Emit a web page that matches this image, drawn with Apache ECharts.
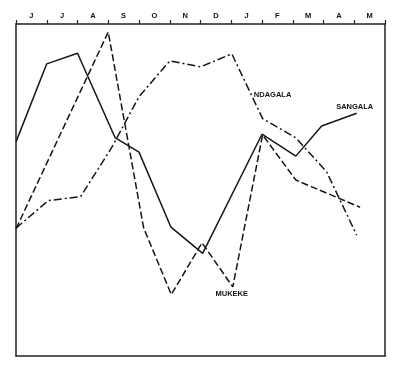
<!DOCTYPE html>
<html><head><meta charset="utf-8">
<script src="https://cdn.jsdelivr.net/npm/echarts@6/dist/echarts.min.js"></script>
<style>html,body{margin:0;padding:0;background:#fff}#c{width:400px;height:371px}</style>
</head><body><div id="c"></div>
<script>
var months = ['J','J','A','S','O','N','D','J','F','M','A','M'];
// x positions in months from start (0 = start of June), y in relative units
var sangalaX = [0, 1, 2, 3.22, 4, 5.04, 6.07, 8, 9.1, 9.94, 11.08];
var sangalaY = [64.5, 88.0, 91.2, 65.8, 61.4, 38.8, 30.9, 66.8, 60.2, 69.3, 73.1];
var mukekeX = [0, 3, 4.15, 5.05, 6.05, 7.05, 8.02, 9.1, 11.19];
var mukekeY = [38.3, 97.6, 38.6, 18.5, 34.1, 20.8, 66.6, 53.0, 44.8];
var ndagalaX = [0, 1.05, 2.1, 3.1, 4, 5, 6, 7.02, 8.02, 9.1, 10.1, 11.08];
var ndagalaY = [38.5, 46.8, 48.0, 62.6, 78.1, 88.9, 87.1, 91.0, 71.5, 65.7, 55.5, 36.4];
var seriesNames = ['SANGALA', 'MUKEKE', 'NDAGALA'];

function pairs(xs, ys) { return xs.map(function (x, i) { return [x, ys[i]]; }); }

var labelStyle = { show: true, color: '#111', fontFamily: 'Liberation Sans, Arial, sans-serif', fontWeight: 'bold', fontSize: 7.5 };

var sData = pairs(sangalaX, sangalaY);
sData[sData.length - 1] = { value: sData[sData.length - 1], label: Object.assign({ formatter: seriesNames[0], position: 'top', distance: 2, offset: [-2, 0] }, labelStyle) };
var mData = pairs(mukekeX, mukekeY);
mData[5] = { value: mData[5], label: Object.assign({ formatter: seriesNames[1], position: 'bottom', distance: 2, offset: [-1, 0] }, labelStyle) };
var nData = pairs(ndagalaX, ndagalaY);
nData[8] = { value: nData[8], label: Object.assign({ formatter: seriesNames[2], position: 'top', distance: 2, offset: [10, -17] }, labelStyle) };

var lineCol = '#151515';
function mk(name, data, type) {
  return {
    name: name, type: 'line', xAxisIndex: 1, data: data,
    symbol: 'circle', symbolSize: 1, showSymbol: true,
    itemStyle: { color: 'rgba(0,0,0,0)' },
    lineStyle: { color: lineCol, width: 1.5, type: type },
    label: { show: false },
    emphasis: { disabled: true }, animation: false, silent: true
  };
}

var chart = echarts.init(document.getElementById('c'), null, { renderer: 'canvas' });
chart.setOption({
  backgroundColor: '#fff',
  animation: false,
  grid: { left: 16, right: 15, top: 24, bottom: 15 },
  xAxis: [
    {
      type: 'category', data: months, position: 'top', boundaryGap: true,
      axisLine: { show: true, onZero: false, lineStyle: { color: '#222', width: 1.5 } },
      axisTick: { show: true, interval: 0, length: 4, lineStyle: { color: '#222', width: 1.2 } },
      axisLabel: { interval: 0, margin: 4, color: '#111', fontFamily: 'Liberation Sans, Arial, sans-serif', fontWeight: 'bold', fontSize: 7.5 },
      splitLine: { show: false }
    },
    {
      type: 'value', min: 0, max: 12, position: 'bottom',
      axisLine: { show: true, onZero: false, lineStyle: { color: '#222', width: 1.5 } },
      axisTick: { show: false }, axisLabel: { show: false }, splitLine: { show: false }
    }
  ],
  yAxis: [
    {
      type: 'value', min: 0, max: 100, position: 'left',
      axisLine: { show: true, onZero: false, lineStyle: { color: '#222', width: 1.5 } },
      axisTick: { show: false }, axisLabel: { show: false }, splitLine: { show: false }
    },
    {
      type: 'value', min: 0, max: 100, position: 'right',
      axisLine: { show: true, onZero: false, lineStyle: { color: '#222', width: 1.5 } },
      axisTick: { show: false }, axisLabel: { show: false }, splitLine: { show: false }
    }
  ],
  series: [
    mk(seriesNames[0], sData, 'solid'),
    mk(seriesNames[1], mData, [7, 3]),
    mk(seriesNames[2], nData, [8, 3, 2, 3])
  ]
});
</script></body></html>
